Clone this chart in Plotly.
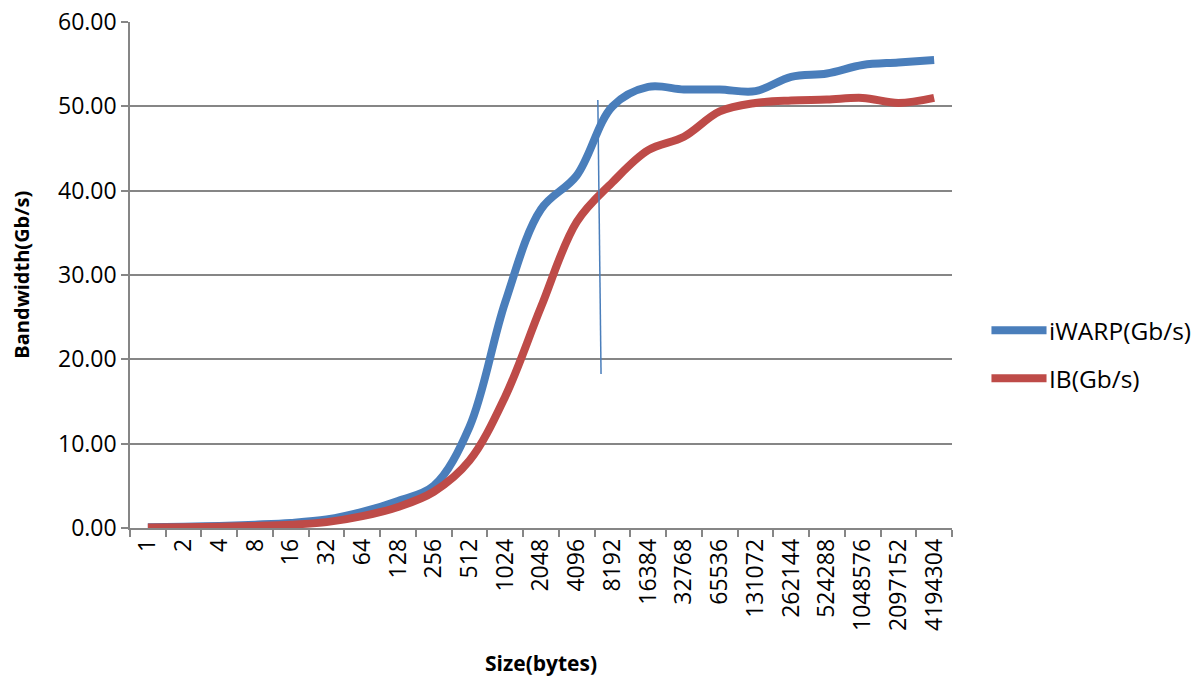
import plotly.graph_objects as go

# Message sizes (bytes) and measured bandwidth per transport
sizes = ["1", "2", "4", "8", "16", "32", "64", "128", "256", "512", "1024",
         "2048", "4096", "8192", "16384", "32768", "65536", "131072", "262144",
         "524288", "1048576", "2097152", "4194304"]
iwarp_gbps = [0.10, 0.15, 0.25, 0.40, 0.60, 1.00, 1.90, 3.20, 5.00, 12.0, 26.8,
              37.8, 41.8, 50.0, 52.3, 52.0, 52.0, 51.8, 53.5, 53.9, 54.9, 55.2, 55.5]
ib_gbps = [0.05, 0.10, 0.15, 0.25, 0.40, 0.70, 1.40, 2.50, 4.30, 8.0, 15.6,
           26.2, 36.3, 41.0, 44.8, 46.4, 49.4, 50.4, 50.7, 50.8, 51.0, 50.4, 51.0]

series_names = ["iWARP(Gb/s)", "IB(Gb/s)"]
series_colors = ["#4a7ebb", "#be4b48"]

FONT = "Open Sans, Lato, Liberation Sans, sans-serif"
GRID = "#868686"
TICK_SIZE = 23

fig = go.Figure()
for name, vals, color in zip(series_names, [iwarp_gbps, ib_gbps], series_colors):
    fig.add_trace(go.Scatter(
        x=sizes, y=vals, name=name, mode="lines",
        line=dict(color=color, width=8, shape="spline", smoothing=1.0),
        showlegend=False,
    ))

# Thin marker line drawn across the curves near 8192 bytes
fig.add_shape(type="line", xref="x", yref="y",
              x0=12.59, y0=50.75, x1=12.68, y1=18.26,
              line=dict(color="#4a7ebb", width=1.5))

# Legend entries drawn on the right of the plot
legend_y = [0.391, 0.296]
for name, color, ly in zip(series_names, series_colors, legend_y):
    fig.add_shape(type="line", xref="paper", yref="paper",
                  x0=1.048, x1=1.115, y0=ly, y1=ly,
                  line=dict(color=color, width=8))
    fig.add_annotation(text=name, xref="paper", yref="paper",
                       x=1.116, y=ly, xanchor="left", yanchor="middle",
                       showarrow=False, font=dict(size=24.5, color="#000000", family=FONT))

# Axis titles
fig.add_annotation(text="<b>Size(bytes)</b>", xref="paper", yref="paper",
                   x=0.5, y=-0.267, xanchor="center", yanchor="middle",
                   showarrow=False, font=dict(size=21, color="#000000", family=FONT))
fig.add_annotation(text="<b>Bandwidth(Gb/s)</b>", xref="paper", yref="paper",
                   x=-0.133, y=0.5, xanchor="center", yanchor="middle", textangle=-90,
                   showarrow=False, font=dict(size=20, color="#000000", family=FONT))

fig.update_layout(
    width=1200, height=680,
    margin=dict(l=130, r=248, t=22, b=152, autoexpand=False),
    paper_bgcolor="white", plot_bgcolor="white",
    font=dict(family=FONT, size=TICK_SIZE, color="#000000"),
)
fig.update_xaxes(
    type="category", range=[-0.5, 22.5], automargin=False,
    tickson="boundaries", ticks="outside", ticklen=7, tickcolor=GRID, tickwidth=1.5,
    tickangle=-90, showgrid=False,
    showline=True, linecolor=GRID, linewidth=1.5,
    tickfont=dict(size=TICK_SIZE, family=FONT),
)
fig.update_yaxes(
    range=[0, 60], dtick=10, tickformat=".2f", automargin=False,
    ticks="outside", ticklen=7, tickcolor=GRID, tickwidth=1.5,
    showgrid=True, gridcolor=GRID, gridwidth=1.5,
    zeroline=False, showline=True, linecolor=GRID, linewidth=1.5,
    tickfont=dict(size=TICK_SIZE, family=FONT),
)

fig.write_html("out.html")
